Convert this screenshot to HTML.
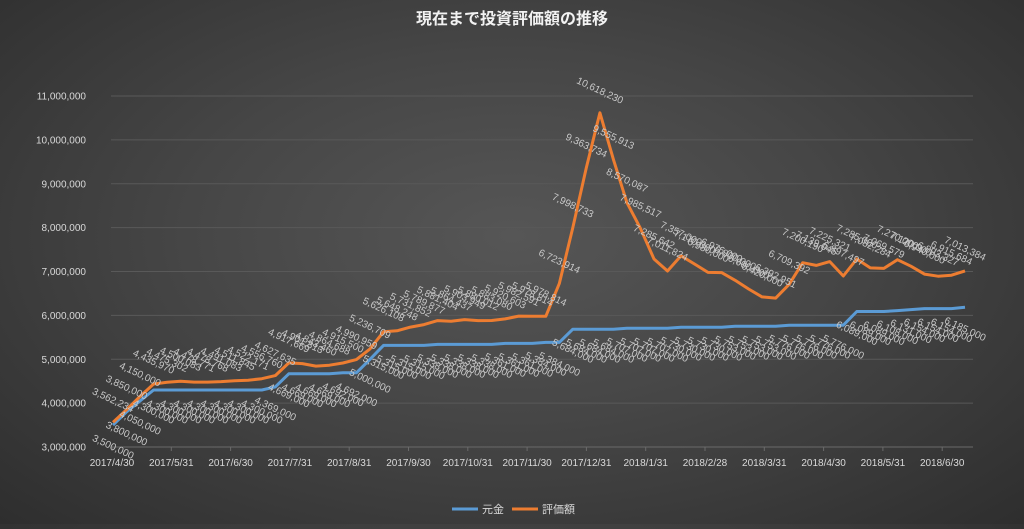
<!DOCTYPE html>
<html><head><meta charset="utf-8"><style>
html,body{margin:0;padding:0;}
body{width:1024px;height:524px;overflow:hidden;background:radial-gradient(ellipse at 50% 45%,#565656 0%,#464646 45%,#2e2e2e 100%);font-family:"Liberation Sans","Noto Sans CJK JP",sans-serif;}
svg text{font-family:"Liberation Sans","Noto Sans CJK JP",sans-serif;}
</style></head><body>
<svg id="chart" width="1024" height="524" xmlns="http://www.w3.org/2000/svg">
<text x="512" y="24" text-anchor="middle" font-size="16" font-weight="bold" fill="#f2f2f2">現在まで投資評価額の推移</text>
<g id="grid"></g><g id="yl"></g><g id="xl"></g><g id="lines"></g><g id="labels"></g>
<g>
<line x1="452" y1="509" x2="478" y2="509" stroke="#5b9bd5" stroke-width="3"/>
<text x="482" y="513" font-size="11" fill="#d9d9d9">元金</text>
<line x1="512" y1="509" x2="538" y2="509" stroke="#ed7d31" stroke-width="3"/>
<text x="542" y="513" font-size="11" fill="#d9d9d9">評価額</text>
</g>
</svg>
<script>
const principal=[3500000,3800000,4050000,4300000,4300000,4300000,4300000,4300000,4300000,4300000,4300000,4300000,4369000,4669000,4669000,4669000,4669000,4692000,4692000,5000000,5315000,5315000,5315000,5315000,5338000,5338000,5338000,5338000,5338000,5361000,5361000,5361000,5384000,5384000,5684000,5684000,5684000,5684000,5707000,5707000,5707000,5707000,5730000,5730000,5730000,5730000,5753000,5753000,5753000,5753000,5776000,5776000,5776000,5776000,5776000,6089000,6089000,6089000,6108000,6131000,6154000,6154000,6154000,6185000];
const valuation=[3562234,3850000,4150000,4435970,4475302,4500083,4478771,4478768,4491083,4511845,4522171,4556760,4627635,4917669,4901813,4843460,4864688,4915500,4990959,5236709,5626108,5648248,5731852,5789877,5881404,5864437,5903949,5880012,5883080,5920603,5982591,5978814,5978814,6723914,7998733,9363734,10618230,9555913,8570087,7985517,7285642,7011824,7357000,7170000,6980000,6976000,6800000,6600000,6420000,6392951,6709392,7200190,7139045,7225321,6897497,7285000,7082284,7069579,7270000,7120000,6940000,6893327,6915684,7013384];
const yTicks=[3000000,4000000,5000000,6000000,7000000,8000000,9000000,10000000,11000000];
const xTickLabels=["2017/4/30","2017/5/31","2017/6/30","2017/7/31","2017/8/31","2017/9/30","2017/10/31","2017/11/30","2017/12/31","2018/1/31","2018/2/28","2018/3/31","2018/4/30","2018/5/31","2018/6/30"];
const NS="http://www.w3.org/2000/svg";
const X0=113,X1=965,Y0=447,Y1=96,VMIN=3000000,VMAX=11000000;
const n=valuation.length;
const xs=i=>X0+(X1-X0)*i/(n-1);
const ys=v=>Y0-(v-VMIN)/(VMAX-VMIN)*(Y0-Y1);
const fmt=v=>v.toLocaleString('en-US');
function mk(tag,attrs,parent,txt){const e=document.createElementNS(NS,tag);for(const k in attrs)e.setAttribute(k,attrs[k]);if(txt!==undefined)e.textContent=txt;parent.appendChild(e);return e;}
const grid=document.getElementById('grid'),yl=document.getElementById('yl'),xl=document.getElementById('xl'),lines=document.getElementById('lines'),labels=document.getElementById('labels');
yTicks.forEach(t=>{
 const l=mk('line',{x1:X0-2,x2:X1+8,y1:ys(t),y2:ys(t),stroke:t===VMIN?'#6a6a6a':'#595959','stroke-width':1},grid);
 
 
 const tx=mk('text',{x:86,y:ys(t)+3.5,'text-anchor':'end','font-size':10,fill:'#d9d9d9'},yl,fmt(t));
 
 
});
const tickStep=(X1-X0+8)/(xTickLabels.length-0.55);
xTickLabels.forEach((s,k)=>{
 const x=112+k*59.3;
 const tk=mk('line',{x1:x,x2:x,y1:Y0,y2:Y0+4,stroke:'#6a6a6a'},xl);
 
 
 const tx=mk('text',{x:x,y:466,'text-anchor':'middle','font-size':10,fill:'#d9d9d9'},xl,s);
 
 
});
function series(arr,color,name,off){
 const d=arr.map((v,i)=>(i?'L':'M')+xs(i).toFixed(1)+','+ys(v).toFixed(1)).join(' ');
 const p=mk('path',{d:d,fill:'none',stroke:color,'stroke-width':3,'stroke-linejoin':'round'},lines);
 
 
 arr.forEach((v,i)=>{
  const cx=xs(i),cy=ys(v)+off;
  const t=mk('text',{x:cx,y:cy+3,'text-anchor':'middle','font-size':10,fill:'#c8c8c8',transform:'rotate(25 '+cx.toFixed(1)+' '+cy.toFixed(1)+')'},labels,fmt(v));
  
  
 });
}
series(principal,'#5b9bd5','principal',22);
series(valuation,'#ed7d31','valuation',-22);
</script>
</body></html>
